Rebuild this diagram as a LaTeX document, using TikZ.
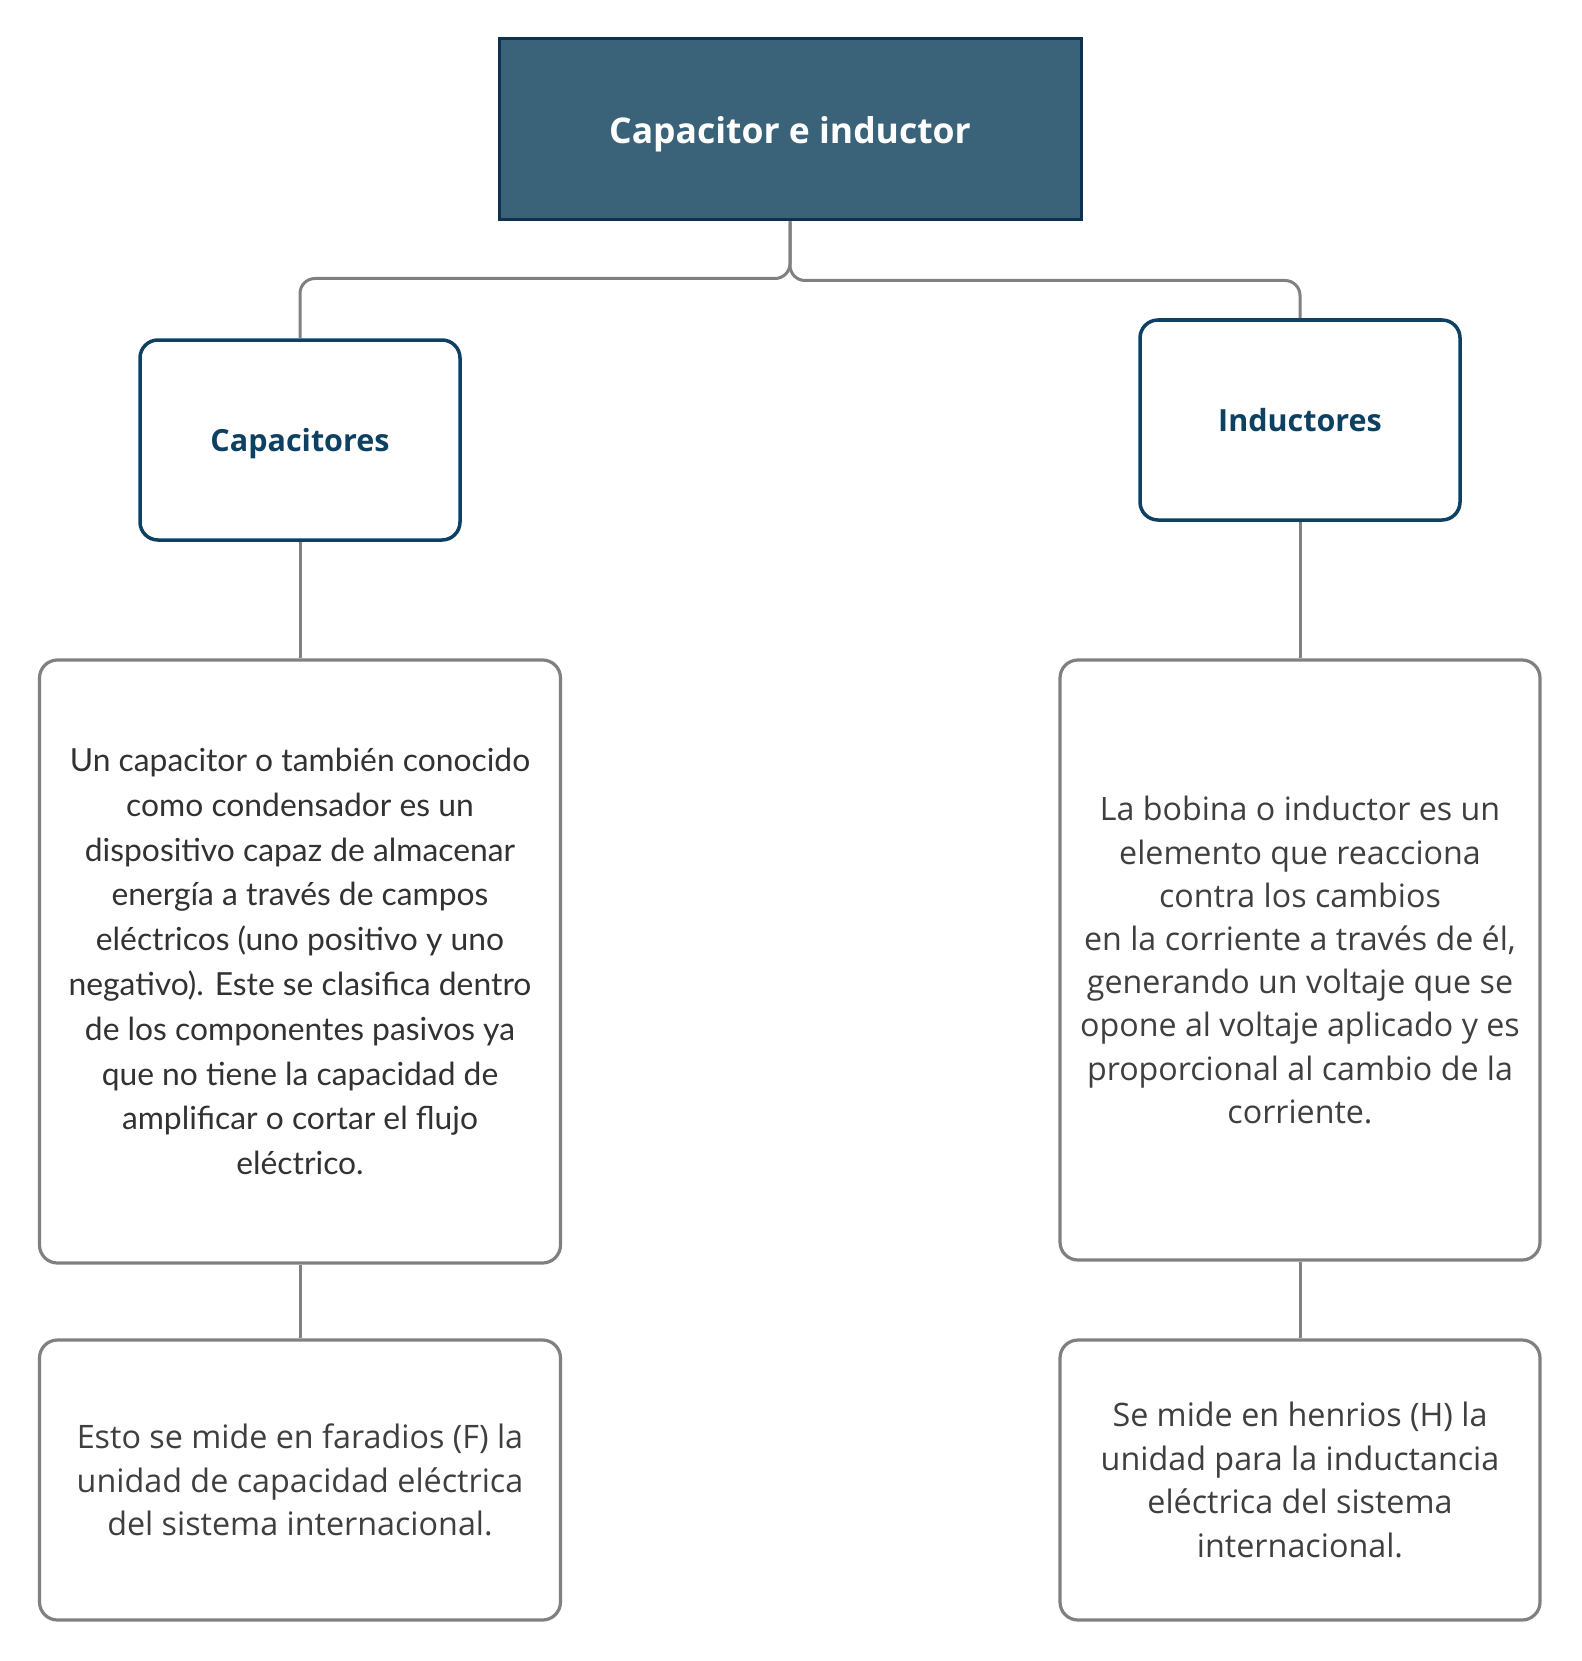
\documentclass[tikz,border=0pt]{standalone}
\usepackage{fontspec}
\setmainfont{Open Sans}
\newfontfamily\latofont{Lato}
\definecolor{topfill}{HTML}{3A6278}
\definecolor{topdraw}{HTML}{0D3250}
\definecolor{navy}{HTML}{0E4062}
\definecolor{grayline}{HTML}{808080}
\definecolor{txtgray}{HTML}{3F3F3F}
\begin{document}
\begin{tikzpicture}[x=1pt,y=-1pt,
  topbox/.style={rectangle, draw=topdraw, fill=topfill, line width=3pt, minimum width=582pt, minimum height=181pt, inner sep=0pt, text=white, font=\fontsize{35.5}{40}\selectfont\bfseries},
  subbox/.style={rectangle, rounded corners=18pt, draw=navy, fill=white, line width=3.5pt, minimum width=320pt, minimum height=200pt, inner sep=0pt, text=navy, font=\fontsize{30.5}{36}\selectfont\bfseries},
  infobox/.style={rectangle, rounded corners=18pt, draw=grayline, fill=white, line width=3.2pt, inner sep=0pt, align=center},
  conn/.style={draw=grayline, line width=3pt}
]
\useasboundingbox[fill=white] (0,0) rectangle (1581,1661);

\node[topbox, text height=36pt, text depth=8.5pt] (top) at (790,129.5) {Capacitor e inductor};
\node[subbox, text height=30.5pt, text depth=7.3pt] (cap) at (300,440) {Capacitores};
\node[subbox] (ind) at (1300,420) {Inductores};

\node[infobox, minimum width=521pt, minimum height=603pt, text=txtgray!80!black,
  font=\latofont\fontsize{31.8}{44.8}\selectfont] (capt) at (300,961.5)
  {Un capacitor o también conocido\\como condensador es un\\dispositivo capaz de almacenar\\energía a través de campos\\eléctricos (uno positivo y uno\\negativo). Este se clasifica dentro\\de los componentes pasivos ya\\que no tiene la capacidad de\\amplificar o cortar el flujo\\eléctrico.};

\node[infobox, minimum width=480pt, minimum height=600pt, text=txtgray,
  font=\fontsize{32.2}{43.2}\selectfont] (indt) at (1300,960)
  {La bobina o inductor es un\\elemento que reacciona\\contra los cambios\\en la corriente a través de él,\\generando un voltaje que se\\opone al voltaje aplicado y es\\proporcional al cambio de la\\corriente.};

\node[infobox, minimum width=521pt, minimum height=280pt, text=txtgray,
  font=\fontsize{32.3}{43.4}\selectfont] (capu) at (300,1480)
  {Esto se mide en faradios (F) la\\unidad de capacidad eléctrica\\del sistema internacional.};

\node[infobox, minimum width=480pt, minimum height=280pt, text=txtgray,
  font=\fontsize{32.3}{43.4}\selectfont] (indu) at (1300,1480)
  {Se mide en henrios (H) la\\unidad para la inductancia\\eléctrica del sistema\\internacional.};

\draw[conn, rounded corners=15pt] (top.south) -- ++(0,57) -| (cap.north);
\draw[conn, rounded corners=15pt] (top.south) -- ++(0,59) -| (ind.north);
\draw[conn] (cap.south) -- (capt.north);
\draw[conn] (ind.south) -- (indt.north);
\draw[conn] (capt.south) -- (capu.north);
\draw[conn] (indt.south) -- (indu.north);
\end{tikzpicture}
\end{document}
